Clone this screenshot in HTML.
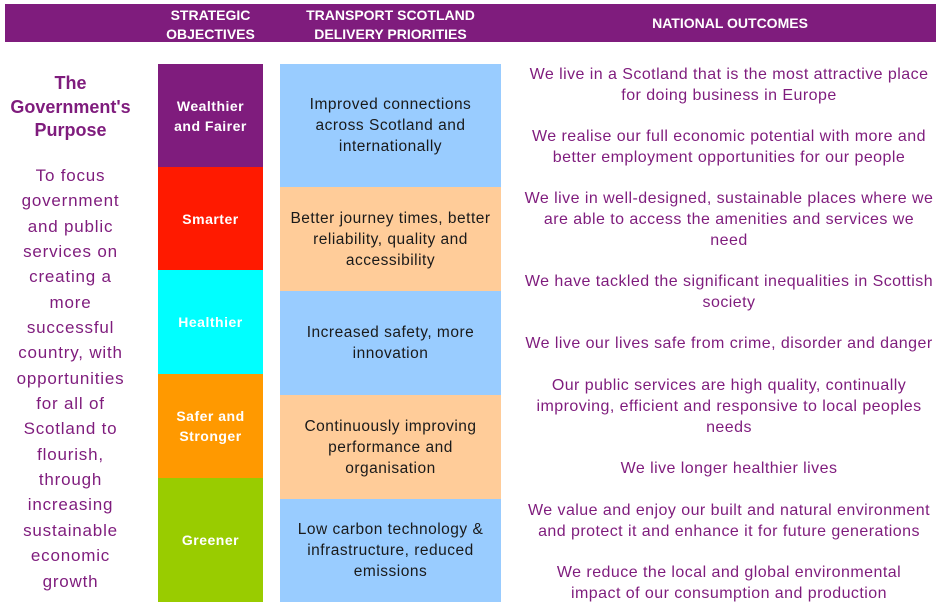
<!DOCTYPE html>
<html><head><meta charset="utf-8"><style>
*{margin:0;padding:0;box-sizing:border-box}
body{width:941px;height:607px;background:#fff;position:relative;overflow:hidden;font-family:"Liberation Sans",sans-serif}
.a{position:absolute}
.hd{position:absolute;color:#fff;font-weight:bold;font-size:14px;line-height:19px;text-align:center;white-space:nowrap}
.so{position:absolute;left:158px;width:105px;display:flex;align-items:center;justify-content:center;text-align:center;color:#fff;font-weight:bold;font-size:14px;line-height:20px;letter-spacing:0.5px}
.tp{position:absolute;left:280px;width:221px;display:flex;align-items:center;justify-content:center;text-align:center;color:#1a1a1a;font-size:15.5px;line-height:21px;letter-spacing:0.5px;white-space:nowrap}
.no{position:absolute;left:509px;width:440px;text-align:center;color:#7f1c7d;font-size:16px;line-height:21px;white-space:nowrap;letter-spacing:0.45px}
</style></head><body>
<div class="a" style="left:5px;top:4px;width:931px;height:38px;background:#7f1c7d"></div>
<div class="hd" style="left:158px;width:105px;top:6px">STRATEGIC<br>OBJECTIVES</div>
<div class="hd" style="left:280px;width:221px;top:6px">TRANSPORT SCOTLAND<br>DELIVERY PRIORITIES</div>
<div class="hd" style="left:520px;width:420px;top:14px">NATIONAL OUTCOMES</div>

<div class="a" style="left:0;width:141px;top:72px;text-align:center;color:#7f1c7d;font-weight:bold;font-size:18px;line-height:23.5px">The<br>Government's<br>Purpose</div>
<div class="a" style="left:0;width:141px;top:163px;text-align:center;color:#7f1c7d;font-size:17px;line-height:25.35px;letter-spacing:0.8px;white-space:nowrap">To focus<br>government<br>and public<br>services on<br>creating a<br>more<br>successful<br>country, with<br>opportunities<br>for all of<br>Scotland to<br>flourish,<br>through<br>increasing<br>sustainable<br>economic<br>growth</div>

<div class="so" style="top:64px;height:103px;background:#7f1c7d">Wealthier<br>and Fairer</div>
<div class="so" style="top:167px;height:103px;background:#ff1a00">Smarter</div>
<div class="so" style="top:270px;height:104px;background:#00ffff">Healthier</div>
<div class="so" style="top:374px;height:104px;background:#ff9900">Safer and<br>Stronger</div>
<div class="so" style="top:478px;height:124px;background:#99cc00">Greener</div>

<div class="tp" style="top:64px;height:123px;background:#99ccff">Improved connections<br>across Scotland and<br>internationally</div>
<div class="tp" style="top:187px;height:104px;background:#ffcc99">Better journey times, better<br>reliability, quality and<br>accessibility</div>
<div class="tp" style="top:291px;height:104px;background:#99ccff">Increased safety, more<br>innovation</div>
<div class="tp" style="top:395px;height:104px;background:#ffcc99">Continuously improving<br>performance and<br>organisation</div>
<div class="tp" style="top:499px;height:103px;background:#99ccff">Low carbon technology &amp;<br>infrastructure, reduced<br>emissions</div>

<div class="no" style="top:64px">We live in a Scotland that is the most attractive place<br>for doing business in Europe</div>
<div class="no" style="top:126px">We realise our full economic potential with more and<br>better employment opportunities for our people</div>
<div class="no" style="top:188px">We live in well-designed, sustainable places where we<br>are able to access the amenities and services we<br>need</div>
<div class="no" style="top:271px">We have tackled the significant inequalities in Scottish<br>society</div>
<div class="no" style="top:333px">We live our lives safe from crime, disorder and danger</div>
<div class="no" style="top:375px">Our public services are high quality, continually<br>improving, efficient and responsive to local peoples<br>needs</div>
<div class="no" style="top:458px">We live longer healthier lives</div>
<div class="no" style="top:500px">We value and enjoy our built and natural environment<br>and protect it and enhance it for future generations</div>
<div class="no" style="top:562px">We reduce the local and global environmental<br>impact of our consumption and production</div>
</body></html>
